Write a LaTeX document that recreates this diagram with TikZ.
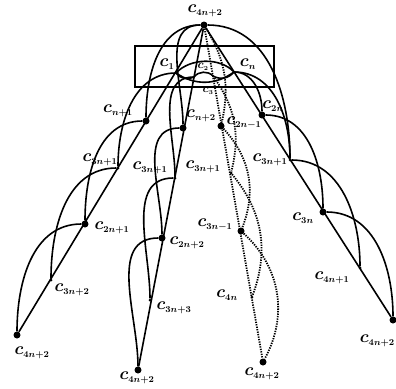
\documentclass[tikz,border=0pt]{standalone}
\newcommand{\cv}[1]{{\boldmath$c_{\scriptscriptstyle #1}$}}
\begin{document}
\begin{tikzpicture}[x=1pt,y=1pt,
  edge/.style={line width=1.6pt},
  dotedge/.style={line width=1.8pt, dash pattern=on 1.3pt off 1.2pt},
  bigdot/.style={circle, fill=black, inner sep=0pt, minimum size=7pt},
  smalldot/.style={circle, fill=black, inner sep=0pt, minimum size=3pt},
  lbl/.style={font=\fontsize{17.5}{19}\selectfont, inner sep=0pt},
  smalllbl/.style={font=\fontsize{13}{15}\selectfont, inner sep=0pt},
  frame/.style={draw, line width=1.2pt, inner sep=0pt}]
\useasboundingbox (0,0) rectangle (396,-388);

% apex
\node[bigdot] (T) at (204,-25) {};

% first fan (outer left)
\coordinate (a1) at (176,-73);
\node[bigdot]   (a2) at (146,-121) {};
\node[smalldot] (a3) at (118,-168) {};
\node[bigdot]   (a4) at (85,-224) {};
\node[smalldot] (a5) at (51,-280) {};
\node[bigdot]   (a6) at (17,-335) {};

% second fan (inner left)
\coordinate (b1) at (194,-77);
\node[bigdot]   (b2) at (183,-128) {};
\node[smalldot] (b3) at (175,-178) {};
\node[bigdot]   (b4) at (162,-238) {};
\node[smalldot] (b5) at (150,-300) {};
\node[bigdot]   (b6) at (138,-370) {};

% dotted fan
\coordinate (d1) at (213,-76);
\node[bigdot]   (d2) at (221,-126) {};
\node[smalldot] (d3) at (231,-173) {};
\node[bigdot]   (d4) at (241,-231) {};
\node[smalldot] (d5) at (252,-297) {};
\node[bigdot]   (d6) at (263,-362) {};

% right fan
\coordinate (e1) at (234,-72);
\node[bigdot]   (e2) at (262,-115) {};
\node[smalldot] (e3) at (290,-160) {};
\node[bigdot]   (e4) at (323,-212) {};
\node[smalldot] (e5) at (360,-268) {};
\node[bigdot]   (e6) at (393,-320) {};

% frame around c_1 ... c_n
\node[frame, minimum width=139pt, minimum height=41pt] (box) at (204.5,-66.5) {};

% spokes
\draw[edge] (T) -- (a6);
\draw[edge] (T) -- (b6);
\draw[edge] (T) -- (e6);
\draw[dotedge] (T) -- (d6);

% arcs of the outer left fan
\draw[edge] (T)  to[out=180,in=90] (a2);
\draw[edge] (a1) to[out=180,in=90] (a3);
\draw[edge] (a2) to[out=180,in=90] (a4);
\draw[edge] (a3) to[out=180,in=90] (a5);
\draw[edge] (a4) to[out=180,in=90] (a6);

% arcs of the inner left fan
\draw[edge] (T)  to[out=180,in=90] (b2);
\draw[edge] (b1) to[out=180,in=90] (b3);
\draw[edge] (b2) to[out=180,in=90] (b4);
\draw[edge] (b3) to[out=180,in=90] (b5);
\draw[edge] (b4) to[out=180,in=90] (b6);

% arcs of the dotted fan
\draw[dotedge] (T)  to[bend left=22] (d2);
\draw[dotedge] (d1) to[bend left=25] (d3);
\draw[dotedge] (d2) to[bend left=32] (d4);
\draw[dotedge] (d3) to[bend left=30] (d5);
\draw[dotedge] (d4) to[bend left=38] (d6);

% arcs of the right fan
\draw[edge] (T)  to[out=0,in=90] (e3);
\draw[edge] (e1) to[out=0,in=90] (e2);
\draw[edge] (e1) to[out=0,in=90] (e3);
\draw[edge] (e2) to[out=0,in=90] (e4);
\draw[edge] (e3) to[out=0,in=90] (e5);
\draw[edge] (e4) to[out=0,in=90] (e6);

% cycle c_1 ... c_n inside the frame
\draw[edge] (a1) .. controls (190,-58) and (220,-57) .. (e1);
\draw[edge] (a1) to[bend right=35] (e1);
\draw[edge] (a1) to[bend right=40] (b1);
\draw[edge] (b1) to[bend left=50] (d1);
\draw[edge] (d1) to[bend right=40] (e1);

% labels
\node[lbl] (lT) at (205,-11) {\cv{4n+2}};
\node[lbl] (l1) at (167,-64) {\cv{1}};
\node[smalllbl] (l2) at (203,-67) {\cv{2}};
\node[smalllbl] (l3) at (208,-91) {\cv{3}};
\node[lbl] (ln) at (248,-64) {\cv{n}};

\node[lbl] (la2) at (118,-111) {\cv{n+1}};
\node[lbl] (la3) at (100,-160) {\cv{3n+1}};
\node[lbl] (la4) at (112,-228) {\cv{2n+1}};
\node[lbl] (la5) at (72,-290)  {\cv{3n+2}};
\node[lbl] (la6) at (32,-353)  {\cv{4n+2}};

\node[lbl] (lb2) at (201,-116) {\cv{n+2}};
\node[lbl] (lb3) at (150,-168) {\cv{3n+1}};
\node[lbl] (lb4) at (187,-243) {\cv{2n+2}};
\node[lbl] (lb5) at (174,-308) {\cv{3n+3}};
\node[lbl] (lb6) at (137,-378) {\cv{4n+2}};

\node[lbl] (ld2) at (244,-123) {\cv{2n-1}};
\node[lbl] (ld3) at (203,-167) {\cv{3n+1}};
\node[lbl] (ld4) at (215,-225) {\cv{3n-1}};
\node[lbl] (ld5) at (227,-295) {\cv{4n}};
\node[lbl] (ld6) at (262,-374) {\cv{4n+2}};

\node[lbl] (le2) at (273,-106) {\cv{2n}};
\node[lbl] (le3) at (270,-160) {\cv{3n+1}};
\node[lbl] (le4) at (303,-218) {\cv{3n}};
\node[lbl] (le5) at (332,-278) {\cv{4n+1}};
\node[lbl, anchor=east] (le6) at (395,-341) {\cv{4n+2}};
\end{tikzpicture}
\end{document}
